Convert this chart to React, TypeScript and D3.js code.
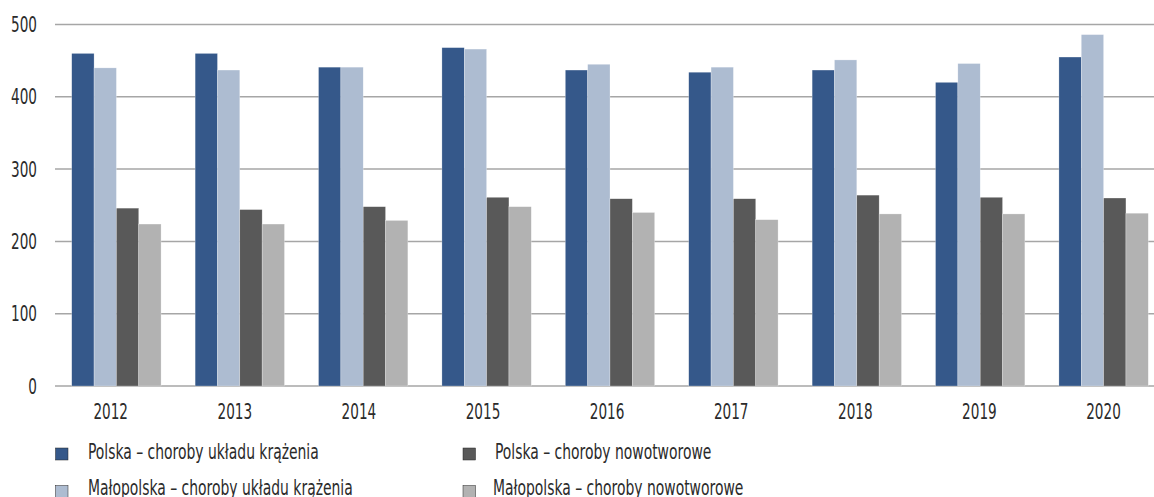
import React from "react";
import * as d3 from "d3";

const years = ["2012", "2013", "2014", "2015", "2016", "2017", "2018", "2019", "2020"];
const polskaKrazenia = [460, 460, 441, 468, 437, 434, 437, 420, 455];
const malopolskaKrazenia = [440, 437, 441, 466, 445, 441, 451, 446, 486];
const polskaNowotwory = [246, 244, 248, 261, 259, 259, 264, 261, 260];
const malopolskaNowotwory = [224, 224, 229, 248, 240, 230, 238, 238, 239];
const yTicks = [0, 100, 200, 300, 400, 500];

const seriesNames = [
  "Polska – choroby układu krążenia",
  "Małopolska  – choroby układu krążenia",
  "Polska – choroby nowotworowe",
  "Małopolska – choroby nowotworowe",
];
const seriesColors = ["#35588a", "#adbcd1", "#595959", "#b2b2b2"];
const seriesValues = [polskaKrazenia, malopolskaKrazenia, polskaNowotwory, malopolskaNowotwory];

const W = 1154;
const H = 497;
const FONT = "'DejaVu Sans Condensed', 'Liberation Sans', sans-serif";
const SQUEEZE = 0.72; // no Myriad Condensed here, so narrow the glyphs

// text squeezed horizontally around its anchor point
const Txt = ({ x, y, anchor = "start", size = 21, children }: any) => (
  <text
    transform={`translate(${x},${y}) scale(${SQUEEZE},1)`}
    textAnchor={anchor}
    fontFamily={FONT}
    fontSize={size}
    fill="#2b2b2b"
  >
    {children}
  </text>
);

export default function App() {
  const x0 = d3.scaleBand().domain(years).range([54.7, 1165.3]).paddingInner(0.276).paddingOuter(0.138);
  const x1 = d3.scaleBand().domain(d3.range(4).map(String)).range([0, x0.bandwidth()]);
  const xLabel = d3.scalePoint().domain(years).range([110.7, 1103.5]);
  const y = d3.scaleLinear().domain([0, 500]).range([386, 24.5]);

  const legend = [
    { i: 0, x: 55.5, y: 448, tx: 88, ty: 459 },
    { i: 1, x: 55.5, y: 485.5, tx: 88, ty: 495 },
    { i: 2, x: 463, y: 448, tx: 495, ty: 459 },
    { i: 3, x: 463, y: 485.5, tx: 493, ty: 495 },
  ];

  return (
    <div style={{ position: "fixed", left: 0, top: 0 }}>
      <svg width={W} height={H} style={{ display: "block", background: "#fff" }}>
        {yTicks.map((t) => (
          <g key={t}>
            <line x1={55} x2={W} y1={y(t)} y2={y(t)} stroke="#a6a6a6" strokeWidth={1.5} />
            <Txt x={37} y={y(t) + 7.5} anchor="end">
              {t}
            </Txt>
          </g>
        ))}
        {years.map((yr, j) => (
          <g key={yr} transform={`translate(${x0(yr)},0)`}>
            {seriesValues.map((vals, i) => (
              <rect
                key={i}
                x={x1(String(i))}
                y={y(vals[j])}
                width={x1.bandwidth()}
                height={y(0) - y(vals[j])}
                fill={seriesColors[i]}
                stroke="#ffffff"
                strokeOpacity={0.5}
                strokeWidth={0.5}
              />
            ))}
          </g>
        ))}
        {years.map((yr) => (
          <Txt key={yr} x={xLabel(yr)} y={419} anchor="middle">
            {yr}
          </Txt>
        ))}
        {legend.map((l) => (
          <g key={l.i}>
            <rect x={l.x} y={l.y} width={12.5} height={12} fill={seriesColors[l.i]} stroke="#262626" strokeWidth={0.5} />
            <Txt x={l.tx} y={l.ty} size={21.5}>
              {seriesNames[l.i]}
            </Txt>
          </g>
        ))}
      </svg>
    </div>
  );
}
